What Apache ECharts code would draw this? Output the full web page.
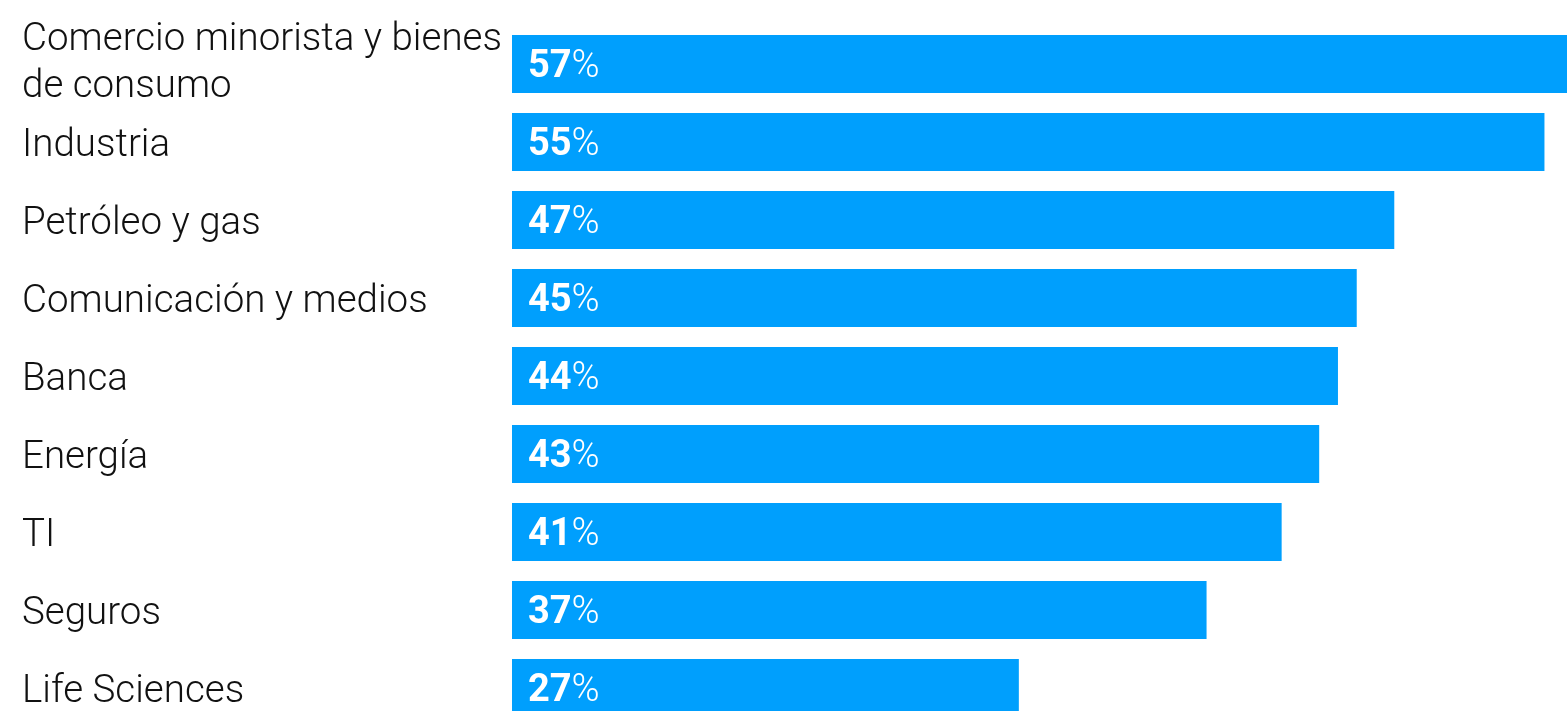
<!DOCTYPE html>
<html>
<head>
<meta charset="utf-8">
<script src="https://cdn.jsdelivr.net/npm/echarts@6/dist/echarts.min.js"></script>
<style>
html,body{margin:0;padding:0;background:#fff;}
#chart{width:1567px;height:711px;}
</style>
</head>
<body>
<div id="chart"></div>
<script>
const categories = [
  "Comercio minorista y bienes de consumo",
  "Industria",
  "Petróleo y gas",
  "Comunicación y medios",
  "Banca",
  "Energía",
  "TI",
  "Seguros",
  "Life Sciences"
];
const values = [57, 55, 47, 45, 44, 43, 41, 37, 27];

const chart = echarts.init(document.getElementById('chart'), null, {renderer: 'canvas'});
chart.setOption({
  animation: false,
  backgroundColor: '#ffffff',
  grid: {left: 512, top: 25, width: 1070, height: 702, containLabel: false, outerBoundsMode: 'none'},
  xAxis: {
    type: 'value', min: 0, max: 57, show: false,
    splitLine: {show: false}
  },
  yAxis: {
    type: 'category', inverse: true, data: categories,
    axisLine: {show: false}, axisTick: {show: false},
    axisLabel: {
      margin: 490, align: 'left', width: 510, overflow: 'break',
      fontFamily: 'Roboto', fontWeight: 300, fontSize: 38.5, color: '#111111',
      lineHeight: 47,
      formatter: (v, i) => i === 0 ? v + '\n{s| }' : '{t| }\n' + v,
      rich: {
        s: {lineHeight: 16, fontSize: 8},
        t: {lineHeight: 8, fontSize: 6}
      }
    }
  },
  series: [{
    type: 'bar', data: values, barWidth: 58,
    itemStyle: {color: '#009ffd'},
    label: {
      show: true, position: 'insideLeft', distance: 16, offset: [0, 3],
      formatter: p => '{b|' + p.value + '}{p|%}',
      rich: {
        b: {fontFamily: 'Roboto', fontWeight: 'bold', fontSize: 38, color: '#ffffff'},
        p: {fontFamily: 'Roboto', fontWeight: 300, fontSize: 38, color: '#ffffff'}
      }
    }
  }]
});
</script>
</body>
</html>
